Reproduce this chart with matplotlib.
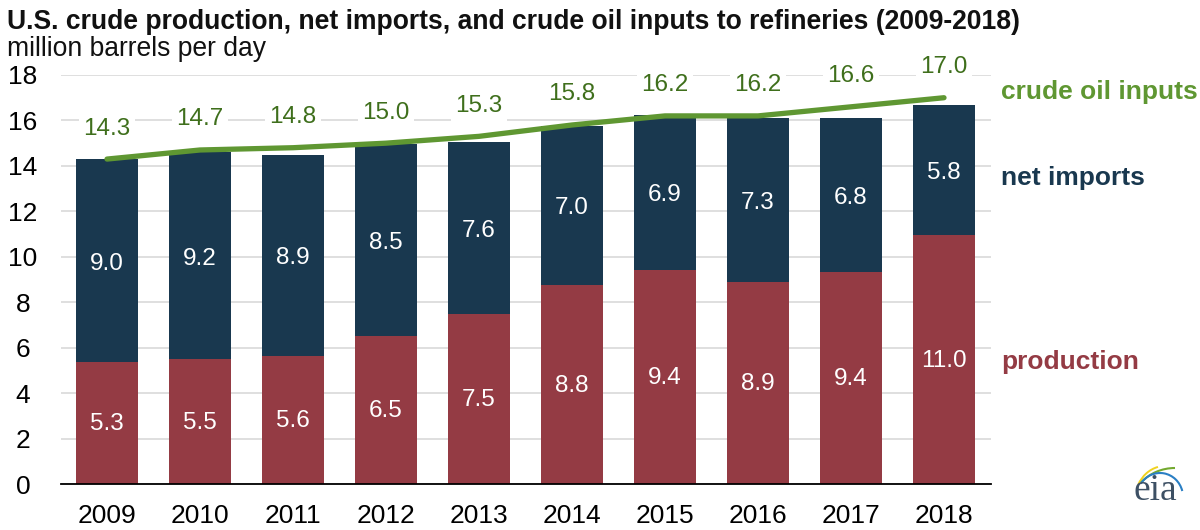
import matplotlib
matplotlib.use('Agg')
import matplotlib.pyplot as plt
from matplotlib.patches import Arc

years = ['2009', '2010', '2011', '2012', '2013', '2014', '2015', '2016', '2017', '2018']
production = [5.35, 5.48, 5.63, 6.5, 7.47, 8.76, 9.43, 8.87, 9.35, 10.96]
net_imports = [8.95, 9.12, 8.87, 8.45, 7.58, 6.99, 6.82, 7.23, 6.75, 5.74]
crude_inputs = [14.3, 14.7, 14.8, 15.0, 15.3, 15.8, 16.2, 16.2, 16.6, 17.0]
production_labels = ['5.3', '5.5', '5.6', '6.5', '7.5', '8.8', '9.4', '8.9', '9.4', '11.0']
imports_labels = ['9.0', '9.2', '8.9', '8.5', '7.6', '7.0', '6.9', '7.3', '6.8', '5.8']
inputs_labels = ['14.3', '14.7', '14.8', '15.0', '15.3', '15.8', '16.2', '16.2', '16.6', '17.0']
yticks = [0, 2, 4, 6, 8, 10, 12, 14, 16, 18]

RED = '#943b44'
NAVY = '#19384f'
GREEN = '#5f9732'
DARK_GREEN = '#3f6f1c'

plt.rcParams['font.family'] = ['Liberation Sans', 'DejaVu Sans']

W, H = 1200, 530
fig = plt.figure(figsize=(W / 100, H / 100), dpi=100)
ax = fig.add_axes([60.5 / W, 1 - 484 / H, 930 / W, 409 / H])

x = list(range(len(years)))
ax.bar(x, production, width=0.66, color=RED, zorder=2)
ax.bar(x, net_imports, width=0.66, bottom=production, color=NAVY, zorder=2)
ax.plot(x, crude_inputs, color=GREEN, lw=3.8, solid_capstyle='round', zorder=3)

# value labels inside the bars
for i in x:
    ax.text(i, production[i] / 2 - 0.05, production_labels[i], color='white', fontsize=17.5,
            ha='center', va='center', zorder=4)
    ax.text(i, production[i] + net_imports[i] / 2 - 0.13, imports_labels[i], color='white',
            fontsize=17.5, ha='center', va='center', zorder=4)
    # line labels sit above the line, white box breaks the gridline
    ax.annotate(inputs_labels[i], (i, crude_inputs[i]), xytext=(0, 22),
                textcoords='offset points', color=DARK_GREEN, fontsize=17.5,
                ha='center', va='center', zorder=4,
                bbox=dict(facecolor='white', edgecolor='none', pad=3))

ax.set_xlim(-0.5, 9.5)
ax.set_ylim(0, 18)
ax.set_yticks(yticks)
ax.set_xticks(x, years)
ax.grid(axis='y', color='#d9d9d9', lw=1.2, zorder=0)
ax.set_axisbelow(True)
for s in ['top', 'right', 'left']:
    ax.spines[s].set_visible(False)
ax.spines['bottom'].set_linewidth(1.3)
ax.tick_params(axis='y', length=0, labelsize=19, pad=27)
ax.tick_params(axis='x', length=0, labelsize=19, pad=14.5)
for lab in ax.get_yticklabels():
    lab.set_ha('center')

fig.text(7 / W, 1 - 22 / H, 'U.S. crude production, net imports, and crude oil inputs to refineries (2009-2018)',
         fontsize=19.1, fontweight='bold', color='#111111', va='center')
fig.text(7 / W, 1 - 49 / H, 'million barrels per day', fontsize=19.1, color='#111111', va='center')

fig.text(1001 / W, 1 - 92 / H, 'crude oil inputs', fontsize=19, fontweight='bold', color=GREEN, va='center')
fig.text(1001 / W, 1 - 177.5 / H, 'net imports', fontsize=19, fontweight='bold', color=NAVY, va='center')
fig.text(1001 / W, 1 - 361.5 / H, 'production', fontsize=19, fontweight='bold', color=RED, va='center')

# eia logo
fig.text(1155 / W, 1 - 491 / H, 'eia', family='Liberation Serif', fontsize=27, color='#3d5064',
         ha='center', va='center')
logo = fig.add_axes([1130 / W, 1 - 500 / H, 60 / W, 40 / H])
logo.set_xlim(1130, 1190)
logo.set_ylim(500, 460)
logo.axis('off')
logo.patch.set_alpha(0)
logo.add_patch(Arc((1165, 500), 60, 68, theta1=210, theta2=258, color='#f0d21f', lw=1.4))
logo.add_patch(Arc((1175, 510), 90, 84, theta1=219, theta2=270, color='#73a92f', lw=1.5))
logo.add_patch(Arc((1160, 497), 46, 48, theta1=215, theta2=345, color='#2a7fc4', lw=1.5))

fig.savefig('out.png', dpi=100)
